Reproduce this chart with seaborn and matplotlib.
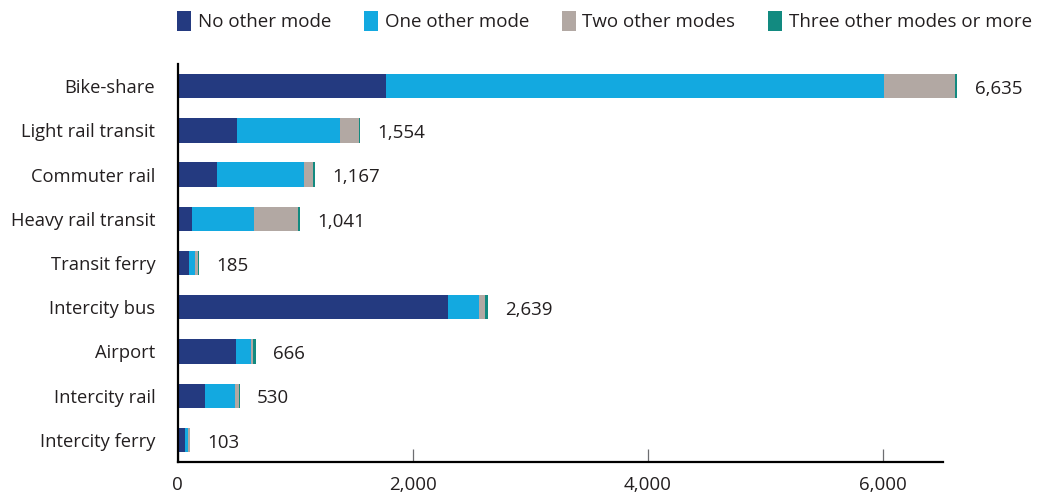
import numpy as np
import pandas as pd
import matplotlib
matplotlib.use("Agg")
import matplotlib.pyplot as plt
from matplotlib.patches import Patch
import seaborn as sns

# --- Data ------------------------------------------------------------------
categories = ["Bike-share", "Light rail transit", "Commuter rail", "Heavy rail transit",
              "Transit ferry", "Intercity bus", "Airport", "Intercity rail", "Intercity ferry"]
no_other = [1772, 504, 334, 123, 100, 2300, 495, 237, 60]
one_other = [4235, 882, 742, 530, 50, 262, 134, 255, 25]
two_other = [610, 155, 78, 375, 20, 57, 14, 34, 18]
three_more = [18, 13, 13, 13, 15, 20, 23, 4, 0]
total_labels = ["6,635", "1,554", "1,167", "1,041", "185", "2,639", "666", "530", "103"]

series_names = ["No other mode", "One other mode", "Two other modes", "Three other modes or more"]
colors = ["#243a80", "#13a9e0", "#b2a8a3", "#128a80"]
TEXT = "#231f20"
FS = 13.5

# --- Plot ------------------------------------------------------------------
sns.set_style("white")
plt.rcParams["font.family"] = ["Open Sans", "DejaVu Sans"]

df = pd.DataFrame({"mode": categories, "s1": no_other, "s2": one_other,
                   "s3": two_other, "s4": three_more})
df["c1"] = df["s1"]
df["c2"] = df["c1"] + df["s2"]
df["c3"] = df["c2"] + df["s3"]
df["c4"] = df["c3"] + df["s4"]

fig = plt.figure(figsize=(10.37, 4.99), dpi=100)
ax = fig.add_axes([0.1712, 0.0741, 0.9091 - 0.1712, 0.8717 - 0.0741])

# stacked bars drawn as overlaid cumulative sums, widest first
for col, color in zip(["c4", "c3", "c2", "c1"], colors[::-1]):
    sns.barplot(data=df, x=col, y="mode", orient="h", color=color, width=0.55,
                linewidth=0, saturation=1, ax=ax)
for p in ax.patches:
    p.set_clip_on(False)

for i, lab in enumerate(total_labels):
    ax.annotate(lab, xy=(df["c4"][i], i), xytext=(12.5, -2), textcoords="offset points",
                ha="left", va="center", fontsize=FS, color=TEXT, annotation_clip=False)

ax.set_xlim(0, 6510)
ax.set_ylim(8.5, -0.5)
ax.set_xticks([0, 2000, 4000, 6000])
ax.xaxis.set_major_formatter(plt.FuncFormatter(lambda x, p: f"{x:,.0f}"))
ax.set_xlabel("")
ax.set_ylabel("")

for side in ["top", "right"]:
    ax.spines[side].set_visible(False)
for side in ["left", "bottom"]:
    ax.spines[side].set_color("black")
    ax.spines[side].set_linewidth(1.6)

ax.tick_params(axis="x", direction="in", length=9.5, width=0.9, color="#6d6e71",
               pad=10, labelsize=FS, labelcolor=TEXT, bottom=True)
ax.tick_params(axis="y", length=0, pad=16, labelsize=13.2, labelcolor=TEXT)

handles = [Patch(facecolor=c, edgecolor="none", label=n) for c, n in zip(colors, series_names)]
fig.legend(handles=handles, loc="upper center", bbox_to_anchor=(0.583, 1.012), ncol=4,
           frameon=False, fontsize=FS, handlelength=0.75, handleheight=1.25,
           handletextpad=0.35, columnspacing=1.75, labelcolor=TEXT)

fig.savefig("out.png", dpi=100)
plt.close(fig)
